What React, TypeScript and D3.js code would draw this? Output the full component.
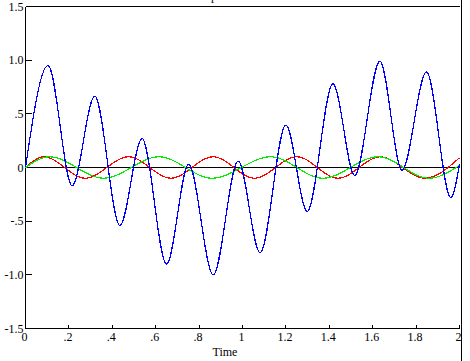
import React from 'react';
import * as d3 from 'd3';

// extrema: [time, value]
const blueSeries: [number, number][] = [
  [0, 0], [0.104, 0.95], [0.215, -0.17], [0.319, 0.665], [0.435, -0.54],
  [0.537, 0.27], [0.65, -0.9], [0.752, 0.03], [0.865, -1.0], [0.98, 0.06],
  [1.081, -0.795], [1.2, 0.395], [1.298, -0.41], [1.417, 0.78], [1.517, -0.075],
  [1.633, 0.99], [1.735, -0.025], [1.848, 0.89], [1.96, -0.28], [2.0, 0.03],
];
const redSeries: [number, number][] = [
  [0, 0], [0.085, 0.1], [0.275, -0.1], [0.475, 0.1], [0.67, -0.1], [0.865, 0.1],
  [1.055, -0.1], [1.25, 0.1], [1.44, -0.1], [1.635, 0.1], [1.84, -0.1], [2.0, 0.09],
];
const greenSeries: [number, number][] = [
  [0, 0], [0.11, 0.1], [0.36, -0.1], [0.615, 0.1], [0.86, -0.1], [1.13, 0.1],
  [1.37, -0.1], [1.625, 0.1], [1.86, -0.1], [2.0, 0.02],
];
const xTicks = [0, 0.2, 0.4, 0.6, 0.8, 1, 1.2, 1.4, 1.6, 1.8, 2];
const xTickLabels = ['0', '.2', '.4', '.6', '.8', '1', '1.2', '1.4', '1.6', '1.8', '2'];
const yTicks = [1.5, 1, 0.5, 0, -0.5, -1, -1.5];
const yTickLabels = ['1.5', '1.0', '.5', '0', '-.5', '-1.0', '-1.5'];

const W = 470;
const H = 361;
const font = '"Liberation Serif", "Times New Roman", serif';

const App = () => {
  const x = d3.scaleLinear().domain([0, 2]).range([25.5, 459.5]);
  const y = d3.scaleLinear().domain([-1.5, 1.5]).range([328.5, 6.5]);

  const line = d3.line<[number, number]>()
    .x(d => x(d[0]))
    .y(d => y(d[1]))
    .curve(d3.curveMonotoneX);

  const series = [
    { data: redSeries, color: '#ff0000' },
    { data: greenSeries, color: '#00ee00' },
    { data: blueSeries, color: '#0000ff' },
  ];

  return (
    <svg width={W} height={H} style={{ position: 'fixed', left: 0, top: 0, background: '#fff' }}>
      <text x={193} y={-0.5} fontFamily={font} fontSize={12}>Amplitude</text>

      {/* frame */}
      <line x1={x(0)} x2={460} y1={y(1.5)} y2={y(1.5)} stroke="#000" shapeRendering="crispEdges" />
      <line x1={461.5} x2={461.5} y1={0} y2={H} stroke="#000" shapeRendering="crispEdges" />
      <line x1={x(0)} x2={x(0)} y1={y(1.5)} y2={y(-1.5)} stroke="#000" shapeRendering="crispEdges" />
      <line x1={x(0)} x2={x(2)} y1={y(-1.5)} y2={y(-1.5)} stroke="#000" shapeRendering="crispEdges" />

      {/* y ticks */}
      {yTicks.map((t, i) => (
        <g key={'y' + i}>
          <line x1={x(0)} x2={x(0) + 6} y1={y(t)} y2={y(t)} stroke="#000" shapeRendering="crispEdges" />
          <text x={23.5} y={y(t)} dy="0.35em" textAnchor="end" fontFamily={font} fontSize={12}>{yTickLabels[i]}</text>
        </g>
      ))}

      {/* x ticks */}
      {xTicks.map((t, i) => (
        <g key={'x' + i}>
          <line x1={x(t)} x2={x(t)} y1={y(-1.5)} y2={y(-1.5) - 4} stroke="#000" shapeRendering="crispEdges" />
          <text x={x(t) - 1} y={341} textAnchor="middle" fontFamily={font} fontSize={12}>{xTickLabels[i]}</text>
        </g>
      ))}
      <text x={225} y={356} textAnchor="middle" fontFamily={font} fontSize={12}>Time</text>

      {/* zero line */}
      <line x1={x(0)} x2={x(2)} y1={y(0)} y2={y(0)} stroke="#000" shapeRendering="crispEdges" />

      {series.map((s, i) => (
        <path key={i} d={line(s.data) || ''} fill="none" stroke={s.color} strokeWidth={1.2} shapeRendering="crispEdges" />
      ))}

      <line x1={461.5} x2={461.5} y1={0} y2={H} stroke="#000" shapeRendering="crispEdges" />
    </svg>
  );
};

export default App;
